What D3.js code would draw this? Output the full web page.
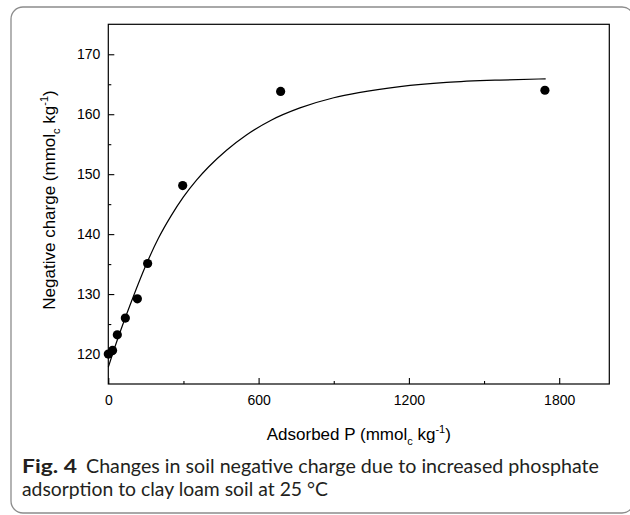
<!DOCTYPE html>
<html>
<head>
<meta charset="utf-8">
<script src="https://cdn.jsdelivr.net/npm/d3@7"></script>
<style>
  html, body { margin: 0; padding: 0; background: #fff; }
  svg { display: block; }
</style>
</head>
<body>
<svg id="chart" width="630" height="515"></svg>
<script>
// ---- data ----
const adsorbedP = [0, 17, 36, 68, 116, 157, 297, 688, 1743];
const negCharge = [120.0, 120.6, 123.2, 126.0, 129.2, 135.1, 148.1, 163.8, 164.0];

// fitted curve
const curveX = [0, 25, 50, 100, 150, 200, 250, 300, 353, 400, 472, 550, 650, 765, 900, 1000, 1164, 1350, 1563, 1746];
const curveY = [117.8, 121.0, 124.0, 129.6, 134.8, 139.3, 143.0, 146.2, 149.05, 151.2, 154.0, 156.5, 159.0, 161.05, 162.75, 163.6, 164.6, 165.3, 165.7, 165.9];

const xMajorTicks = [0, 600, 1200, 1800];
const xMinorTicks = [300, 900, 1500];
const yMajorTicks = [120, 130, 140, 150, 160, 170];
const yMinorTicks = [125, 135, 145, 155, 165];

const xDomain = [0, 2000];
const yDomain = [115, 175];

// ---- layout ----
const svg = d3.select("#chart");
const L = 108.3, R = 609.3, T = 24.3, B = 384;

// outer rounded frame
svg.append("rect")
  .attr("x", 11).attr("y", 7)
  .attr("width", 623).attr("height", 506)
  .attr("rx", 12).attr("ry", 12)
  .attr("fill", "none")
  .attr("stroke", "#8c8c8c")
  .attr("stroke-width", 1.3);

const x = d3.scaleLinear().domain(xDomain).range([L, R]);
const y = d3.scaleLinear().domain(yDomain).range([B, T]);

const axisFont = "'Liberation Sans', Arial, sans-serif";

// x axis
svg.append("g").attr("transform", `translate(0,${B})`)
  .call(d3.axisBottom(x).tickValues(xMajorTicks).tickSize(-6).tickPadding(11).tickFormat(d3.format("d")));
svg.append("g").attr("transform", `translate(0,${B})`)
  .call(d3.axisBottom(x).tickValues(xMinorTicks).tickSize(-3).tickFormat(""));

// y axis
svg.append("g").attr("transform", `translate(${L},0)`)
  .call(d3.axisLeft(y).tickValues(yMajorTicks).tickSize(-6).tickPadding(8).tickFormat(d3.format("d")));
svg.append("g").attr("transform", `translate(${L},0)`)
  .call(d3.axisLeft(y).tickValues(yMinorTicks).tickSize(-3).tickFormat(""));

svg.selectAll(".domain").remove();
svg.selectAll(".tick line").attr("stroke", "#000").attr("stroke-width", 1.1);
svg.selectAll(".tick text")
  .attr("font-family", axisFont)
  .attr("font-size", 14)
  .attr("fill", "#000");

// plot frame
svg.append("rect")
  .attr("x", L).attr("y", T)
  .attr("width", R - L).attr("height", B - T)
  .attr("fill", "none")
  .attr("stroke", "#000")
  .attr("stroke-width", 1.2);

// fitted curve
const curveData = curveX.map((d, i) => [d, curveY[i]]);
svg.append("path")
  .datum(curveData)
  .attr("fill", "none")
  .attr("stroke", "#000")
  .attr("stroke-width", 1.2)
  .attr("d", d3.line().x(d => x(d[0])).y(d => y(d[1])).curve(d3.curveMonotoneX));

// points
svg.append("g").selectAll("circle")
  .data(adsorbedP.map((d, i) => [d, negCharge[i]]))
  .join("circle")
  .attr("cx", d => x(d[0]))
  .attr("cy", d => y(d[1]))
  .attr("r", 4.6)
  .attr("fill", "#000");

// axis titles with sub/superscripts
function unitTitle(sel, prefix) {
  sel.append("tspan").text(prefix + "(mmol");
  sel.append("tspan").attr("font-size", 11).attr("dy", 5).text("c");
  sel.append("tspan").attr("dy", -5).text(" kg");
  sel.append("tspan").attr("font-size", 11).attr("dy", -7).text("-1");
  sel.append("tspan").attr("dy", 7).text(")");
}

const xt = svg.append("text")
  .attr("x", (L + R) / 2).attr("y", 440)
  .attr("text-anchor", "middle")
  .attr("font-family", axisFont)
  .attr("font-size", 17)
  .attr("fill", "#000");
unitTitle(xt, "Adsorbed P ");

const yt = svg.append("text")
  .attr("transform", `translate(54.5,200) rotate(-90)`)
  .attr("text-anchor", "middle")
  .attr("font-family", axisFont)
  .attr("font-size", 17)
  .attr("fill", "#000");
unitTitle(yt, "Negative charge ");

// caption
const capFont = "Lato, 'Open Sans', sans-serif";
const capSize = 18.5;
const capLeft = 22, capRight = 599;
const capLine1 = 473, capLine2 = 495.5;

svg.append("text")
  .attr("x", capLeft).attr("y", capLine1)
  .attr("font-family", capFont)
  .attr("font-size", capSize)
  .attr("font-weight", "bold")
  .attr("fill", "#231f20")
  .attr("textLength", 55)
  .attr("lengthAdjust", "spacingAndGlyphs")
  .text("Fig. 4");

const restX = 86;
svg.append("text")
  .attr("x", restX).attr("y", capLine1)
  .attr("font-family", capFont)
  .attr("font-size", capSize)
  .attr("fill", "#231f20")
  .attr("textLength", capRight - restX)
  .attr("lengthAdjust", "spacingAndGlyphs")
  .text("Changes in soil negative charge due to increased phosphate");

svg.append("text")
  .attr("x", capLeft).attr("y", capLine2)
  .attr("font-family", capFont)
  .attr("font-size", capSize)
  .attr("fill", "#231f20")
  .attr("textLength", 328 - capLeft)
  .attr("lengthAdjust", "spacingAndGlyphs")
  .text("adsorption to clay loam soil at 25 °C");
</script>
</body>
</html>
